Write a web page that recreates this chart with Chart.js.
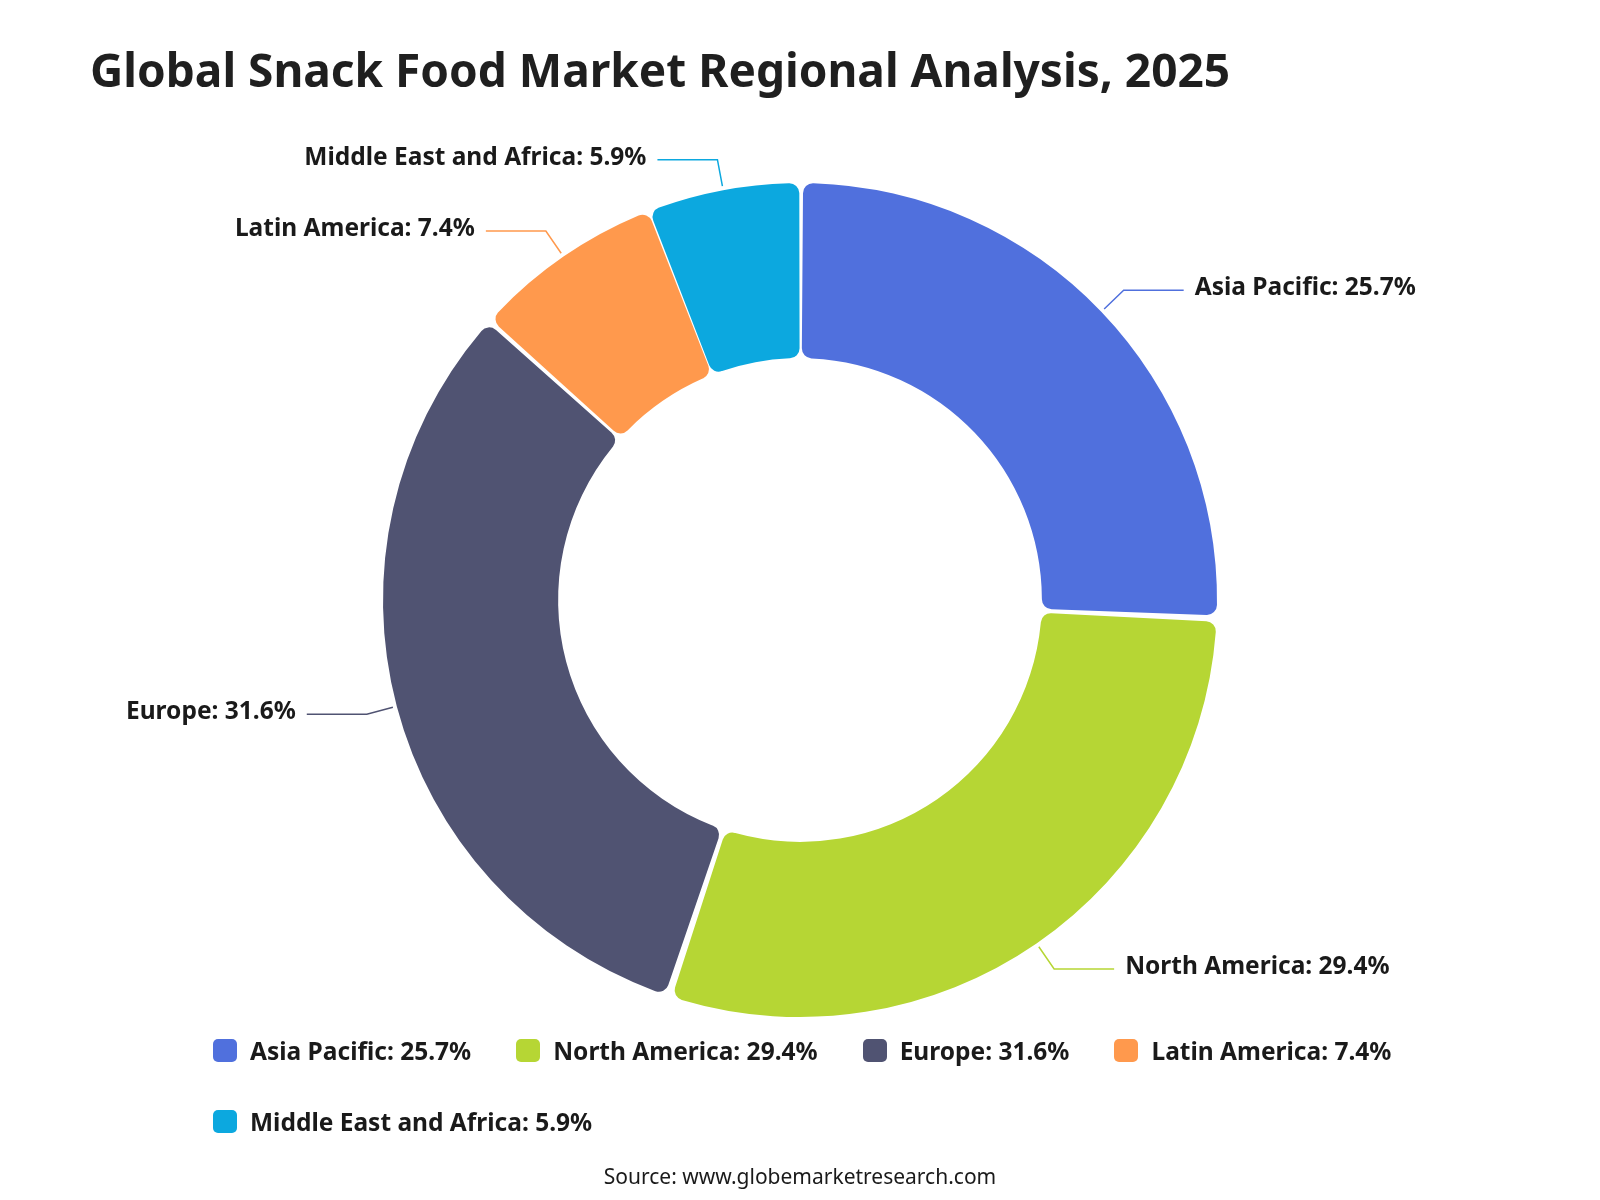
<!DOCTYPE html>
<html>
<head>
<meta charset="utf-8">
<title>Global Snack Food Market Regional Analysis, 2025</title>
<script src="https://cdn.jsdelivr.net/npm/chart.js@4.4.1/dist/chart.umd.min.js"></script>
<style>
  html, body { margin: 0; padding: 0; background: #fff; }
  #wrap { position: relative; width: 1600px; height: 1200px; }
  #legend {
    position: absolute; left: 213px; top: 1038px; width: 1320px;
    display: flex; flex-wrap: wrap;
    font: bold 24.5px "Noto Sans", sans-serif; color: #1a1a1a;
  }
  .item { display: flex; align-items: center; height: 24px; margin: 0 45px 47px 0; white-space: nowrap; }
  .box { width: 24px; height: 23px; border-radius: 5px; margin-right: 13px; }
</style>
</head>
<body>
<div id="wrap">
  <canvas id="chart-1" width="1600" height="1200"></canvas>
  <div id="legend"></div>
</div>
<script>
var regions = ["Asia Pacific", "North America", "Europe", "Latin America", "Middle East and Africa"];
var shares = [25.7, 29.4, 31.6, 7.4, 5.9];
var colors = ["#5070dd", "#b6d634", "#505372", "#ff994d", "#0ca8df"];

var fontFamily = '"Noto Sans", sans-serif';

function labelText(i) {
  return regions[i] + ": " + shares[i] + "%";
}

// labels outside the ring with leader lines
var outerLabels = {
  id: "outerLabels",
  afterDatasetsDraw: function (chart) {
    var ctx = chart.ctx;
    var meta = chart.getDatasetMeta(0);
    ctx.save();
    meta.data.forEach(function (arc, i) {
      var p = arc.getProps(["x", "y", "startAngle", "endAngle", "outerRadius"]);
      var mid = (p.startAngle + p.endAngle) / 2;
      var cos = Math.cos(mid);
      var sin = Math.sin(mid);
      var r0 = p.outerRadius + 7;
      var r1 = p.outerRadius + 34;
      var x0 = p.x + cos * r0, y0 = p.y + sin * r0;
      var x1 = p.x + cos * r1, y1 = p.y + sin * r1;
      var dir = cos >= 0 ? 1 : -1;
      var x2 = x1 + dir * 60;

      ctx.strokeStyle = colors[i];
      ctx.lineWidth = 1.5;
      ctx.beginPath();
      ctx.moveTo(x0, y0);
      ctx.lineTo(x1, y1);
      ctx.lineTo(x2, y1);
      ctx.stroke();

      ctx.font = "bold 24.5px " + fontFamily;
      ctx.fillStyle = "#1a1a1a";
      ctx.textAlign = dir > 0 ? "left" : "right";
      ctx.textBaseline = "middle";
      ctx.fillText(labelText(i), x2 + dir * 11, y1 - 2);
    });
    ctx.restore();
  }
};

var ctx = document.getElementById("chart-1").getContext("2d");
var myChart = new Chart(ctx, {
  type: "doughnut",
  data: {
    labels: regions,
    datasets: [
      {
        data: shares,
        backgroundColor: colors,
        borderWidth: 0,
        borderRadius: 10,
        spacing: 6,
      },
    ],
  },
  options: {
    responsive: false,
    animation: false,
    radius: 414,
    cutout: "57.7%",
    layout: { padding: { left: 90, right: 90, top: 0, bottom: 9 } },
    plugins: {
      legend: { display: false },
      tooltip: { enabled: false },
      title: {
        display: true,
        text: "Global Snack Food Market Regional Analysis, 2025",
        align: "start",
        color: "#1f1f1f",
        font: { family: fontFamily, size: 46, weight: "bold" },
        padding: { top: 46, bottom: 0 },
      },
      subtitle: {
        display: true,
        position: "bottom",
        text: "Source: www.globemarketresearch.com",
        color: "#1a1a1a",
        font: { family: fontFamily, size: 21, weight: "normal" },
        padding: { top: 67, bottom: 0 },
      },
    },
  },
  plugins: [outerLabels],
});

// legend built from the same arrays
var legendEl = document.getElementById("legend");
regions.forEach(function (name, i) {
  var item = document.createElement("div");
  item.className = "item";
  var box = document.createElement("span");
  box.className = "box";
  box.style.background = colors[i];
  var txt = document.createElement("span");
  txt.textContent = labelText(i);
  item.appendChild(box);
  item.appendChild(txt);
  legendEl.appendChild(item);
});
</script>
</body>
</html>
